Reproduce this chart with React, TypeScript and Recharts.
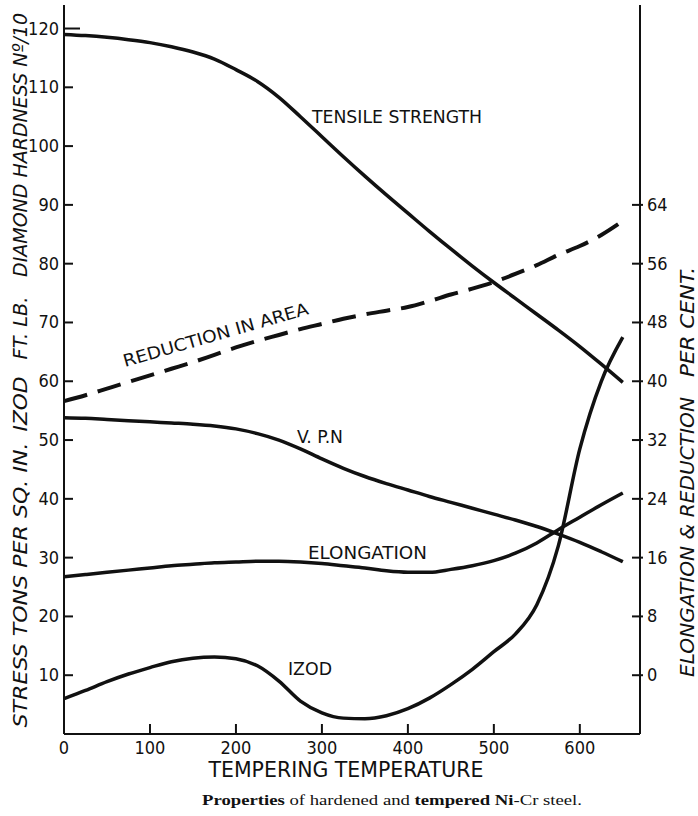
import React from "react";
import { LineChart, Line, XAxis, YAxis } from "recharts";

// tempering temperature, every 25 degrees
const temps = [
  0, 25, 50, 75, 100, 125, 150, 175, 200, 225, 250, 275, 300, 325, 350, 375,
  400, 425, 450, 475, 500, 525, 550, 575, 600, 625, 650,
];

// left axis (tons / sq in, ft lb, VPN/10)
const tensile = [
  119, 118.8, 118.5, 118.1, 117.6, 116.9, 116, 114.8, 113, 111, 108.3, 105,
  101.6, 98.2, 94.9, 91.7, 88.6, 85.5, 82.5, 79.6, 76.8, 74.1, 71.4, 68.7,
  65.9, 62.9, 59.8,
];
const vpn = [
  53.8, 53.7, 53.5, 53.3, 53.1, 52.9, 52.7, 52.4, 51.9, 51.1, 50, 48.5, 46.8,
  45.2, 43.8, 42.6, 41.5, 40.4, 39.4, 38.4, 37.4, 36.4, 35.3, 34, 32.6, 31,
  29.3,
];
const izod = [
  6, 7.4, 8.9, 10.2, 11.3, 12.3, 12.9, 13.1, 12.8, 11.6, 9.0, 5.6, 3.6, 2.7,
  2.6, 3.1, 4.3, 6.1, 8.4, 11, 14, 17, 22, 32, 48.5, 60, 67.5,
];

// right axis (per cent)
const elongation = [
  13.4, 13.7, 14, 14.3, 14.6, 14.9, 15.1, 15.3, 15.4, 15.5, 15.5, 15.4, 15.2,
  14.9, 14.6, 14.2, 14, 14, 14.4, 14.9, 15.6, 16.6, 18, 19.8, 21.5, 23.2, 24.8,
];
const reduction = [
  37.3, 38.1, 39, 39.9, 40.8, 41.7, 42.6, 43.6, 44.6, 45.5, 46.3, 47.1, 47.8,
  48.5, 49.1, 49.6, 50.1, 50.9, 51.8, 52.6, 53.5, 54.6, 55.8, 57.2, 58.4, 59.9,
  61.8,
];

const xTicks = [0, 100, 200, 300, 400, 500, 600];
const leftTicks = [10, 20, 30, 40, 50, 60, 70, 80, 90, 100, 110, 120];
const rightTicks = [0, 8, 16, 24, 32, 40, 48, 56, 64];

const data = temps.map((t, i) => ({
  t,
  tensile: tensile[i],
  vpn: vpn[i],
  izod: izod[i],
  elongation: elongation[i],
  reduction: reduction[i],
}));

const INK = "#111";
const LETTER = "'Liberation Sans Narrow', 'DejaVu Sans Condensed', sans-serif";

const LeftTick = ({ x, y, payload }: any) => {
  const len = payload.value === 120 ? 16 : 9;
  return (
    <g>
      <line x1={x} y1={y} x2={x + len} y2={y} stroke={INK} strokeWidth={2} />
      <text x={x - 5} y={y} dy={6} textAnchor="end" fontSize={18} fontFamily={LETTER} fill={INK}>
        {payload.value}
      </text>
    </g>
  );
};

const RightTick = ({ x, y, payload }: any) => (
  <g>
    <line x1={x - 8} y1={y} x2={x + 3} y2={y} stroke={INK} strokeWidth={2} />
    <text x={x + 7} y={y} dy={6} textAnchor="start" fontSize={18} fontFamily={LETTER} fill={INK}>
      {payload.value}
    </text>
  </g>
);

const BottomTick = ({ x, y, payload }: any) => (
  <g>
    {payload.value > 0 && (
      <line x1={x} y1={y} x2={x} y2={y - 10} stroke={INK} strokeWidth={2} />
    )}
    <text x={x} y={y + 20} textAnchor="middle" fontSize={18} fontFamily={LETTER} fill={INK}>
      {payload.value}
    </text>
  </g>
);

const vText = (label: string, cx: number, cy: number, len: number) => (
  <text
    x={cx}
    y={cy}
    transform={`rotate(-90, ${cx}, ${cy})`}
    textAnchor="middle"
    dominantBaseline="central"
    fontSize={20}
    fontStyle="italic"
    fontFamily={LETTER}
    textLength={len}
    lengthAdjust="spacingAndGlyphs"
    fill={INK}
  >
    {label}
  </text>
);

export default function App() {
  return (
    <div style={{ position: "absolute", left: 0, top: 0, width: 698, height: 816, background: "#fff" }}>
      <LineChart
        width={698}
        height={816}
        data={data}
        margin={{ top: 5, right: 18, bottom: 52, left: 0 }}
      >
        <XAxis
          dataKey="t"
          type="number"
          domain={[0, 670]}
          ticks={xTicks}
          height={30}
          axisLine={{ stroke: INK, strokeWidth: 2 }}
          tickLine={false}
          tickSize={0}
          tickMargin={0}
          tick={<BottomTick />}
          interval={0}
        />
        <YAxis
          yAxisId="left"
          type="number"
          domain={[0, 124]}
          ticks={leftTicks}
          width={64}
          axisLine={{ stroke: INK, strokeWidth: 2 }}
          tickLine={false}
          tickSize={0}
          tickMargin={0}
          tick={<LeftTick />}
          interval={0}
        />
        <YAxis
          yAxisId="right"
          orientation="right"
          type="number"
          domain={[-8, 91.2]}
          ticks={rightTicks}
          width={40}
          axisLine={{ stroke: INK, strokeWidth: 2 }}
          tickLine={false}
          tickSize={0}
          tickMargin={0}
          tick={<RightTick />}
          interval={0}
        />
        <Line yAxisId="left" dataKey="tensile" type="monotone" stroke={INK} strokeWidth={3.5} dot={false} isAnimationActive={false} />
        <Line yAxisId="left" dataKey="vpn" type="monotone" stroke={INK} strokeWidth={3.5} dot={false} isAnimationActive={false} />
        <Line yAxisId="left" dataKey="izod" type="monotone" stroke={INK} strokeWidth={3.5} dot={false} isAnimationActive={false} />
        <Line yAxisId="right" dataKey="elongation" type="monotone" stroke={INK} strokeWidth={3.5} dot={false} isAnimationActive={false} />
        <Line yAxisId="right" dataKey="reduction" type="monotone" stroke={INK} strokeWidth={4} strokeDasharray="24 11" dot={false} isAnimationActive={false} />
      </LineChart>

      <svg width={698} height={816} style={{ position: "absolute", left: 0, top: 0, pointerEvents: "none" }}>
        <g fontFamily={LETTER} fill={INK} fontSize={17}>
          <text x={312} y={123} textLength={170} lengthAdjust="spacingAndGlyphs">TENSILE STRENGTH</text>
          <text x={125} y={367} transform="rotate(-16, 125, 367)" textLength={192} lengthAdjust="spacingAndGlyphs">
            REDUCTION IN AREA
          </text>
          <text x={297} y={443} textLength={46} lengthAdjust="spacingAndGlyphs">V. P.N</text>
          <text x={308} y={559} textLength={119} lengthAdjust="spacingAndGlyphs">ELONGATION</text>
          <text x={288} y={675} textLength={44} lengthAdjust="spacingAndGlyphs">IZOD</text>
          <text x={346} y={777} textAnchor="middle" fontSize={21} textLength={275} lengthAdjust="spacingAndGlyphs">
            TEMPERING TEMPERATURE
          </text>
        </g>
        {vText("STRESS TONS PER SQ. IN.", 20, 585, 285)}
        {vText("IZOD", 20, 404, 55)}
        {vText("FT. LB.", 20, 328, 63)}
        {vText("DIAMOND HARDNESS Nº/10", 20, 145, 264)}
        {vText("ELONGATION & REDUCTION", 687, 537, 280)}
        {vText("PER CENT.", 687, 322, 110)}
        <text
          x={392}
          y={805}
          textAnchor="middle"
          fontFamily="'Liberation Serif', 'DejaVu Serif', serif"
          fontSize={15}
          fill={INK}
          textLength={380}
          lengthAdjust="spacingAndGlyphs"
        >
          <tspan fontWeight="bold">Properties</tspan> of hardened and{" "}
          <tspan fontWeight="bold">tempered</tspan> <tspan fontWeight="bold">Ni</tspan>-Cr steel.
        </text>
      </svg>
    </div>
  );
}
